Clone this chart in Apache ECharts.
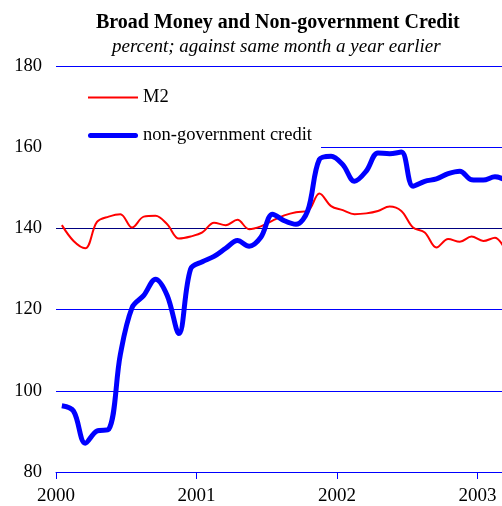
<!DOCTYPE html>
<html>
<head>
<meta charset="utf-8">
<script src="https://cdn.jsdelivr.net/npm/echarts@6/dist/echarts.min.js"></script>
<style>html,body{margin:0;padding:0;background:#fff}#c{width:502px;height:506px}</style>
</head>
<body>
<div id="c"></div>
<script>
// monthly observations, Jan 2000 .. Mar 2003 (plotted mid-month)
var startYear = 2000;
var yearLabels = ['2000', '2001', '2002', '2003'];
var yTicks = [80, 100, 120, 140, 160, 180];
var seriesNames = ['M2', 'non-government credit'];
var m2 = [140.8, 136.9, 135.1, 141.6, 142.9, 143.5, 140.2, 142.9, 143.1, 141, 137.5, 138,
          139, 141.4, 140.8, 142.1, 139.8, 140.5, 141.9, 143.2, 144, 144.3, 148.6, 145.5,
          144.5, 143.5, 143.7, 144.3, 145.4, 144.3, 140.2, 139, 135.3, 137.4, 136.7, 138,
          136.9, 137.7, 134];
var credit = [96.3, 95, 87.1, 90.1, 90.5, 109, 120.5, 123.5, 127.5, 123.5, 114.1, 130,
              131.8, 133.1, 135.1, 137, 135.6, 137.8, 143.5, 141.9, 141, 144.3, 157, 157.8,
              155.7, 151.6, 154.1, 158.6, 158.4, 158.8, 150.4, 151.6, 152.2, 153.5, 154.1, 152,
              151.9, 152.7, 151.8];

function toPairs(arr) {
  return arr.map(function (v, i) { return [i + 0.5, v]; });
}
var serif = '"Liberation Serif","Times New Roman",serif';
var chart = echarts.init(document.getElementById('c'), null, {renderer: 'canvas'});
chart.setOption({
  animation: false,
  backgroundColor: '#fff',
  title: [
    {text: 'Broad Money and Non-government Credit', left: 91, top: 8,
     textStyle: {fontFamily: serif, fontSize: 20, fontWeight: 'bold', color: '#000'}},
    {text: 'percent; against same month a year earlier', left: 107, top: 32,
     textStyle: {fontFamily: serif, fontSize: 19, fontStyle: 'italic', fontWeight: 'normal', color: '#000'}}
  ],
  legend: {
    orient: 'vertical', left: 54, top: 83,
    padding: [5, 9, 4, 34],
    backgroundColor: '#fff',
    itemWidth: 50, itemHeight: 20, itemGap: 19,
    symbolKeepAspect: true,
    data: [
      {name: seriesNames[0], icon: 'path://M0,0h50v2h-50z'},
      {name: seriesNames[1], icon: 'path://M2.5,0h45a2.5,2.5 0 0 1 0,5h-45a2.5,2.5 0 0 1 0,-5z'}
    ],
    textStyle: {fontFamily: serif, fontSize: 18.5, color: '#000'}
  },
  grid: {left: 56, right: 0, top: 66, bottom: 32},
  xAxis: {
    type: 'value', min: 0, max: 38.1, interval: 12,
    axisLine: {show: true, lineStyle: {color: '#0000ff', width: 1}},
    axisTick: {show: true, length: 7, lineStyle: {color: '#0000ff'}},
    splitLine: {show: false},
    axisLabel: {
      fontFamily: serif, fontSize: 19, color: '#000', margin: 15, showMaxLabel: false,
      formatter: function (v) { var i = Math.round(v / 12); return yearLabels[i] || ''; }
    }
  },
  yAxis: {
    type: 'value', min: yTicks[0], max: yTicks[yTicks.length - 1], interval: 20,
    axisLine: {show: false}, axisTick: {show: false},
    splitLine: {show: true, lineStyle: {color: '#0000ff', width: 1}},
    axisLabel: {fontFamily: serif, fontSize: 18.5, color: '#000', margin: 14}
  },
  series: [
    {name: seriesNames[0], type: 'line', data: toPairs(m2), smooth: 0.35, symbol: 'none',
     lineStyle: {color: '#ff0000', width: 2}, itemStyle: {color: '#ff0000'}, z: 3,
     markLine: {silent: true, symbol: 'none', label: {show: false},
                lineStyle: {color: '#000080', width: 1, type: 'solid'},
                data: [{yAxis: 140}], z: 1}},
    {name: seriesNames[1], type: 'line', data: toPairs(credit), smooth: 0.35, symbol: 'none',
     lineStyle: {color: '#0000ff', width: 5}, itemStyle: {color: '#0000ff'}, z: 4}
  ]
});
</script>
</body>
</html>
